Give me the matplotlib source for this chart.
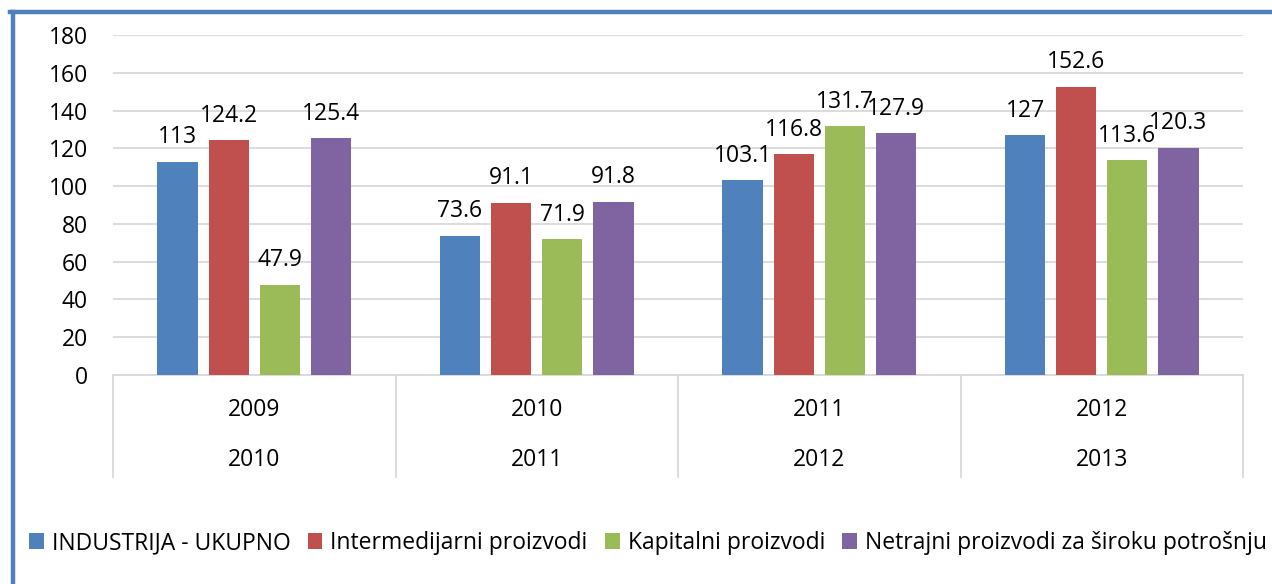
import matplotlib.pyplot as plt
from matplotlib.lines import Line2D
from matplotlib.patches import Patch
import numpy as np

plt.rcParams['font.family'] = ['Open Sans', 'DejaVu Sans']

# Data
years_top = ["2009", "2010", "2011", "2012"]
years_bottom = ["2010", "2011", "2012", "2013"]
series_names = ["INDUSTRIJA - UKUPNO", "Intermedijarni proizvodi",
                "Kapitalni proizvodi", "Netrajni proizvodi za široku potrošnju"]
ukupno = [113, 73.6, 103.1, 127]
intermedijarni = [124.2, 91.1, 116.8, 152.6]
kapitalni = [47.9, 71.9, 131.7, 113.6]
netrajni = [125.4, 91.8, 127.9, 120.3]
label_texts = [["113", "73.6", "103.1", "127"],
               ["124.2", "91.1", "116.8", "152.6"],
               ["47.9", "71.9", "131.7", "113.6"],
               ["125.4", "91.8", "127.9", "120.3"]]

colors = ["#4f81bd", "#c0504d", "#9bbb59", "#8064a2"]
fs = 16.5

W, H = 1272, 584
fig = plt.figure(figsize=(W / 100, H / 100), dpi=100)
ax = fig.add_axes([113 / W, (H - 375) / H, (1243 - 113) / W, (375 - 35) / H])

x = np.arange(len(years_top))
spacing = 0.181
width = 0.142
for i, vals in enumerate([ukupno, intermedijarni, kapitalni, netrajni]):
    pos = x + (i - 1.5) * spacing
    bars = ax.bar(pos, vals, width=width, color=colors[i], zorder=3)
    for b, txt in zip(bars, label_texts[i]):
        ax.annotate(txt, (b.get_x() + b.get_width() / 2, b.get_height()),
                    xytext=(0, 9), textcoords="offset points",
                    ha="center", va="bottom", fontsize=fs, color="black", zorder=4)

ax.set_xlim(-0.5, 3.5)
ax.set_ylim(0, 180)
ax.set_yticks(range(0, 181, 20))
ax.yaxis.grid(True, color="#d9d9d9", linewidth=1.3, zorder=0)
ax.tick_params(axis="y", length=0, labelsize=fs, pad=18)
ax.tick_params(axis="x", length=0, labelbottom=False)
for s in ["left", "right", "top"]:
    ax.spines[s].set_visible(False)
ax.spines["bottom"].set_color("#d9d9d9")
ax.spines["bottom"].set_linewidth(1.3)

# two-level category axis
for k in range(len(years_top) + 1):
    ax.plot([k - 0.5, k - 0.5], [0, -54], color="#d9d9d9", lw=1.3,
            clip_on=False, zorder=1)
for k in range(len(years_top)):
    ax.text(k, -18.5, years_top[k], ha="center", va="center", fontsize=fs)
    ax.text(k, -45, years_bottom[k], ha="center", va="center", fontsize=fs)

# legend
handles = [Patch(facecolor=c, edgecolor="none") for c in colors]
fig.legend(handles, series_names, loc="center", bbox_to_anchor=(648 / W, (H - 543) / H),
           ncol=4, frameon=False, fontsize=fs, handlelength=0.65, handleheight=0.65,
           handletextpad=0.35, columnspacing=0.75)

# blue frame on top and left
fig.add_artist(Line2D([12.5 / W, 12.5 / W], [0, (H - 12) / H], color="#4f81bd", lw=3.2))
fig.add_artist(Line2D([10 / W, 1], [(H - 12) / H, (H - 12) / H], color="#4f81bd", lw=3.2))

fig.savefig("out.png", dpi=100, facecolor="white")
